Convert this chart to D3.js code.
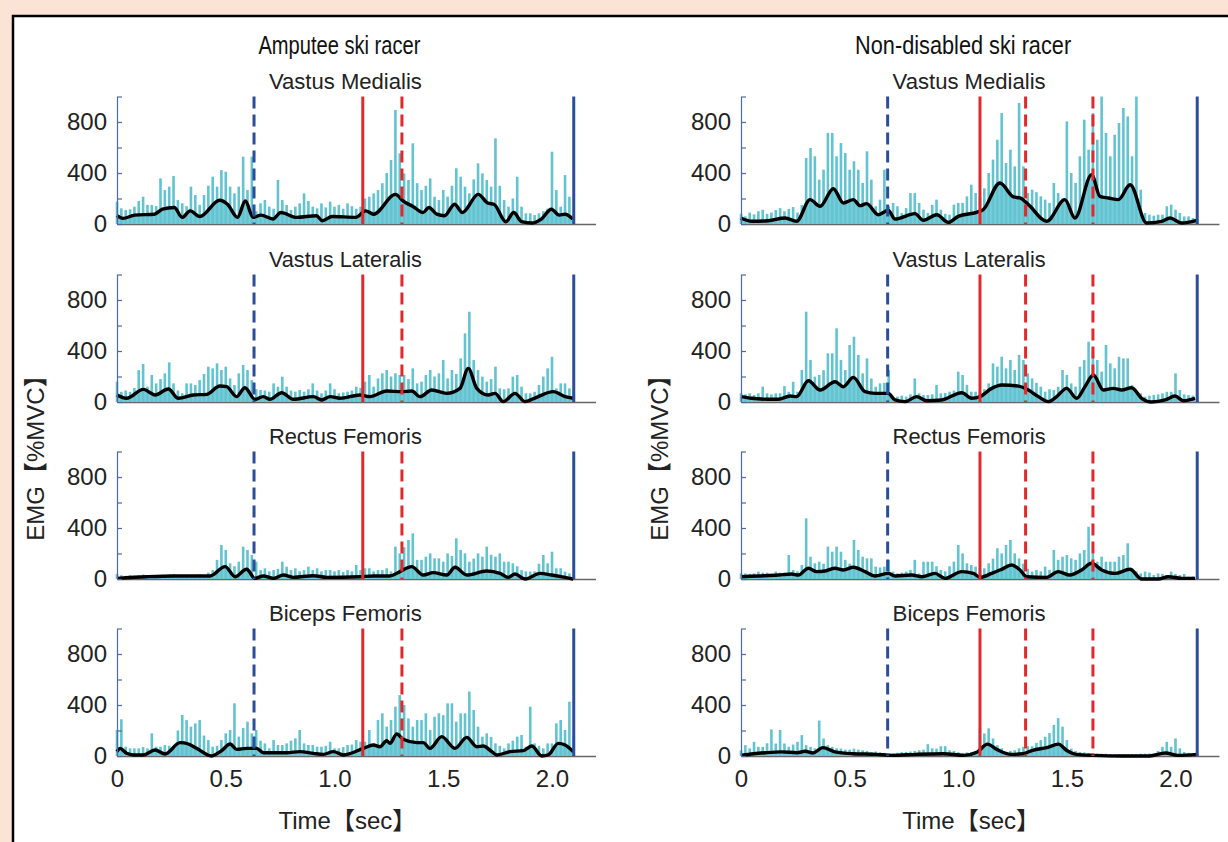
<!DOCTYPE html>
<html>
<head lang="en">
    <meta charset="UTF-8">
    <title></title>
    <script src="https://cdn.jsdelivr.net/npm/d3@7"></script>
    <style>
        *{
            margin: 0;
            padding: 0;
        }
        body{background:#fbe4d5;}
        text{font-family:"Liberation Sans","Noto Sans CJK SC",sans-serif;fill:#222;}
    </style>
</head>
<body>
<div id="mychart" style="width:1228px;height:842px;position:fixed;left:0;top:0"></div>
<script>
    // labels
    var groups = ["Amputee ski racer", "Non-disabled ski racer"];
    var muscles = ["Vastus Medialis", "Vastus Lateralis", "Rectus Femoris", "Biceps Femoris"];
    var xTicks = [0, 0.5, 1.0, 1.5, 2.0];
    var yTicks = [0, 200, 400, 600, 800, 1000];
    var yLabels = [0, 400, 800];

    // event markers (sec)
    var ampEventT = [0.63, 1.13, 1.31, 2.1];
    var ampEventType = ["blueDash", "redSolid", "redDash", "blueSolid"];
    var ndEventT = [0.675, 1.1, 1.31, 1.62, 2.1];
    var ndEventType = ["blueDash", "redSolid", "redDash", "redDash", "blueSolid"];

    // raw EMG peaks, one value every 0.02 s from 0 to 2.1 s
    var rawStep = 0.02;
    var ampVM_raw = [175,123,110,115,136,180,214,150,150,140, 358,266,293,376,188,162,140,293,227,150,
        227,300,371,293,423,410,293,240,293,528, 266,528,100,162,188,136,120,345,188,150,
        110,136,162,240,180,136,123,162,130,175, 136,150,120,162,140,120,136,200,214,240,
        266,320,400,502,894,554,397,345,633,320, 266,300,358,214,188,266,214,300,437,371,
        293,240,350,476,397,345,293,672,300,188, 136,200,371,136,84,84,70,84,100,120,
        567,266,136,384,214,80];
    var ampVL_raw = [160,80,90,80,110,250,298,120,212,146, 180,225,311,146,90,68,146,146,133,172,
        220,277,264,303,251,277,185,133,225,290, 251,172,100,94,90,81,146,120,199,120,
        90,81,94,81,100,146,90,68,90,146, 100,68,75,81,90,120,110,160,212,120,
        185,225,251,200,225,212,212,180,264,146, 160,212,251,200,225,329,185,251,220,342,
        538,708,329,250,199,160,180,277,107,100, 107,199,212,120,68,68,80,133,200,264,
        355,107,146,146,107,80];
    var ampRF_raw = [40,30,25,30,25,30,35,31,25,30, 25,30,35,39,30,25,30,25,30,35,
        30,50,70,150,267,228,123,100,136,254, 228,188,136,70,84,60,70,80,136,97,
        70,84,60,70,97,70,84,60,70,70, 60,70,55,70,60,110,70,84,84,60,
        70,70,84,60,254,201,250,306,358,150, 150,175,201,162,162,136,201,180,319,228,
        201,136,160,201,175,254,190,175,201,136, 136,123,100,70,60,58,60,120,188,123,
        214,84,84,58,44,30];
    var ampBF_raw = [204,288,73,60,60,60,70,60,178,73, 73,86,80,60,200,322,282,230,256,282,
        160,125,73,80,125,178,204,413,152,220, 269,178,204,120,99,60,125,86,86,99,
        120,139,204,99,86,86,73,73,80,112, 60,60,70,86,90,125,112,112,204,99,
        282,335,230,282,387,478,400,295,230,282, 282,335,204,308,335,320,413,413,269,335,
        335,505,361,230,152,178,150,99,80,60, 99,120,152,165,73,387,99,80,60,99,
        99,256,282,204,426,152];
    var ndVM_raw = [80,60,90,75,100,112,80,90,110,125, 100,118,133,90,150,518,596,531,348,426,
        714,714,531,635,557,426,492,426,322,570, 348,139,191,426,139,165,139,86,125,243,
        243,165,112,86,150,191,112,80,73,152, 165,165,217,308,243,217,280,400,505,661,
        870,478,583,452,949,452,243,269,250,217, 191,165,322,243,200,805,400,322,531,818,
        583,870,661,1000,714,531,700,792,910,844, 531,1000,269,86,73,65,73,73,139,152,
        112,86,60,60,47,40];
    var ndVL_raw = [68,60,68,55,68,120,68,60,68,68, 125,80,159,81,251,708,329,199,212,250,
        382,382,578,329,251,447,512,369,225,342, 185,120,146,150,251,42,42,50,42,60,
        185,68,55,55,60,133,68,70,81,90, 238,212,133,81,81,81,100,146,303,277,
        355,264,329,251,369,329,225,185,150,120, 81,100,94,120,251,212,146,120,277,329,
        473,395,329,238,447,303,264,355,342,342, 133,80,68,42,50,55,60,68,80,80,
        225,94,60,55,50,40];
    var ndRF_raw = [44,44,40,44,58,50,50,40,58,50, 50,188,71,60,110,476,175,123,136,120,
        254,214,254,214,150,120,306,228,175,162, 162,97,90,97,150,58,44,50,58,71,
        150,44,136,136,136,100,71,60,100,136, 267,201,123,110,97,84,84,123,160,241,
        201,267,306,201,162,120,80,58,71,60, 97,71,228,150,175,188,162,150,201,228,
        410,201,136,175,136,136,136,175,188,280, 84,60,44,58,50,31,44,40,31,58,
        40,31,40,18,20,15];
    var ndBF_raw = [45,85,60,111,72,72,100,209,98,204, 98,72,90,111,164,85,72,60,278,138,
        85,72,60,58,50,50,58,50,45,40, 32,35,30,25,18,20,25,30,32,35,
        40,45,50,93,60,58,77,77,45,40, 30,24,28,32,40,217,177,217,138,85,
        60,32,40,45,60,72,77,77,103,125, 151,180,244,297,230,125,58,40,32,28,
        24,22,18,18,18,15,13,13,13,13, 13,15,18,18,20,18,40,72,111,72,
        138,60,32,25,18,15];

    // smoothed envelope [sec, %MVC]
    var ampVM_env = [[0,65],[0.027,44],[0.082,70],[0.172,77],[0.209,116],[0.263,129],[0.30,52],[0.336,103],[0.381,59],[0.472,186],[0.508,155],[0.554,52],[0.59,180],[0.626,52],[0.662,70],[0.717,39],[0.753,90],[0.826,52],[0.917,65],[0.944,26],[0.989,59],[1.098,52],[1.143,103],[1.18,77],[1.28,232],[1.316,180],[1.361,137],[1.407,90],[1.434,129],[1.47,77],[1.506,65],[1.552,155],[1.588,90],[1.661,232],[1.706,163],[1.733,155],[1.788,18],[1.824,90],[1.86,18],[1.906,8],[1.951,39],[1.997,116],[2.033,70],[2.06,77],[2.096,39]];
    var ampVL_env = [[0,55],[0.044,29],[0.121,99],[0.175,55],[0.236,102],[0.282,29],[0.351,55],[0.412,60],[0.473,125],[0.504,120],[0.55,42],[0.588,112],[0.634,21],[0.673,42],[0.703,21],[0.757,73],[0.811,21],[0.903,42],[0.941,16],[0.98,42],[1.025,29],[1.117,55],[1.163,42],[1.24,86],[1.309,81],[1.355,86],[1.393,42],[1.447,94],[1.516,68],[1.577,107],[1.615,264],[1.654,107],[1.707,55],[1.738,68],[1.776,3],[1.83,68],[1.876,3],[1.929,37],[2.006,81],[2.06,42],[2.098,29]];
    var ampRF_env = [[0,5],[0.136,18],[0.259,24],[0.428,24],[0.497,97],[0.543,18],[0.596,76],[0.634,5],[0.673,24],[0.719,5],[0.765,31],[0.811,13],[0.903,26],[0.964,13],[1.117,18],[1.179,24],[1.255,24],[1.301,58],[1.355,97],[1.408,31],[1.454,50],[1.516,31],[1.554,92],[1.608,31],[1.7,63],[1.761,44],[1.799,13],[1.83,39],[1.876,0],[1.945,44],[1.998,31],[2.06,13],[2.098,0]];
    var ampBF_env = [[0,34],[0.014,60],[0.044,21],[0.075,8],[0.121,8],[0.175,47],[0.221,16],[0.29,105],[0.328,94],[0.366,60],[0.435,0],[0.481,42],[0.52,94],[0.55,52],[0.596,60],[0.642,60],[0.673,26],[0.78,26],[0.841,34],[0.903,21],[0.949,13],[0.995,34],[1.041,8],[1.133,60],[1.179,86],[1.209,73],[1.24,120],[1.255,99],[1.286,172],[1.316,131],[1.378,105],[1.408,105],[1.439,60],[1.493,152],[1.554,60],[1.608,146],[1.654,73],[1.684,78],[1.723,34],[1.746,8],[1.807,34],[1.868,42],[1.907,78],[1.953,0],[1.983,8],[2.029,99],[2.06,86],[2.098,34]];
    var ndVM_env = [[0,47],[0.049,21],[0.126,26],[0.203,47],[0.256,21],[0.318,191],[0.364,139],[0.425,277],[0.471,165],[0.517,191],[0.548,144],[0.578,160],[0.632,73],[0.678,107],[0.709,39],[0.801,81],[0.839,29],[0.901,73],[0.954,13],[1.0,60],[1.085,92],[1.115,112],[1.192,322],[1.254,212],[1.284,204],[1.323,152],[1.407,21],[1.491,191],[1.537,47],[1.614,387],[1.652,217],[1.691,204],[1.737,191],[1.791,308],[1.867,8],[1.936,21],[1.975,47],[2.028,8],[2.097,29]];
    var ndVL_env = [[0,42],[0.049,29],[0.126,21],[0.172,21],[0.226,47],[0.256,42],[0.31,167],[0.364,94],[0.433,159],[0.471,120],[0.517,193],[0.571,81],[0.617,68],[0.678,68],[0.709,16],[0.755,3],[0.809,42],[0.855,10],[0.924,16],[1.016,73],[1.062,29],[1.1,42],[1.154,107],[1.2,133],[1.277,125],[1.323,94],[1.369,42],[1.415,3],[1.453,42],[1.499,107],[1.545,29],[1.583,120],[1.622,212],[1.668,94],[1.714,107],[1.752,94],[1.798,112],[1.844,29],[1.89,0],[1.952,16],[1.998,47],[2.036,10],[2.09,29]];
    var ndRF_env = [[0,18],[0.08,24],[0.172,31],[0.233,39],[0.264,31],[0.31,84],[0.348,58],[0.387,63],[0.433,84],[0.471,71],[0.517,92],[0.571,58],[0.617,24],[0.678,44],[0.709,24],[0.786,31],[0.832,18],[0.893,44],[0.939,5],[1.016,58],[1.07,44],[1.1,13],[1.154,44],[1.2,76],[1.246,110],[1.284,71],[1.315,18],[1.407,13],[1.46,58],[1.514,31],[1.568,71],[1.614,123],[1.66,71],[1.722,44],[1.79,76],[1.844,0],[1.921,0],[1.967,18],[2.028,5],[2.09,5]];
    var ndBF_env = [[0,5],[0.058,18],[0.113,26],[0.186,32],[0.259,26],[0.295,37],[0.332,24],[0.377,66],[0.432,32],[0.514,18],[0.623,13],[0.696,5],[0.806,13],[0.933,18],[1.024,5],[1.088,32],[1.134,93],[1.179,50],[1.243,13],[1.298,18],[1.343,45],[1.407,66],[1.462,93],[1.498,45],[1.544,13],[1.626,5],[1.754,0],[1.881,0],[1.954,24],[2.009,5],[2.1,13]];

    var rawSets = [[ampVM_raw, ampVL_raw, ampRF_raw, ampBF_raw], [ndVM_raw, ndVL_raw, ndRF_raw, ndBF_raw]];
    var envSets = [[ampVM_env, ampVL_env, ampRF_env, ampBF_env], [ndVM_env, ndVL_env, ndRF_env, ndBF_env]];
    var eventSets = [[ampEventT, ampEventType], [ndEventT, ndEventType]];

    var lineStyle = {
        blueDash: {color: "#2b4e9c", dash: "12,6"},
        blueSolid: {color: "#2b4e9c", dash: null},
        redSolid: {color: "#e2282c", dash: null},
        redDash: {color: "#e2282c", dash: "12,6"}
    };

    //画布
    var _svg = d3.select("#mychart").append("svg")
        .attr("width", 1228).attr("height", 842);
    _svg.append("rect").attr("width", 1228).attr("height", 842).attr("fill", "#fbe4d5");
    _svg.append("rect").attr("x", 13).attr("y", 16).attr("width", 1400).attr("height", 1000)
        .attr("fill", "#fff").attr("stroke", "#000").attr("stroke-width", 2.5);

    var colX0 = [117, 741];
    var pxPerSec = [217.5, 217.25];
    var rowBase = [224, 402, 579, 756];
    var plotH = 127.5;
    var cyan = "#63c4d1";

    for (var c = 0; c < 2; c++) {
        var _x = d3.scaleLinear().domain([0, 2.2]).range([colX0[c], colX0[c] + 2.2 * pxPerSec[c]]);
        var cx = _x(1.05);

        _svg.append("text").attr("x", cx - 6).attr("y", 54)
            .attr("text-anchor", "middle").style("font-size", "26px").style("fill", "#111")
            .attr("textLength", c === 0 ? 162 : 216).attr("lengthAdjust", "spacingAndGlyphs")
            .text(groups[c]);

        _svg.append("text")
            .attr("transform", "translate(" + (c === 0 ? 44 : 668) + ",452) rotate(-90)")
            .attr("text-anchor", "middle").style("font-size", "24px")
            .text("EMG【%MVC】");

        _svg.append("text").attr("x", cx + 2).attr("y", 829)
            .attr("text-anchor", "middle").style("font-size", "24px")
            .text("Time【sec】");

        for (var r = 0; r < 4; r++) {
            var base = rowBase[r];
            var _y = d3.scaleLinear().domain([0, 1000]).range([base, base - plotH]).clamp(true);
            var g = _svg.append("g");

            g.append("text").attr("x", cx).attr("y", base - 135)
                .attr("text-anchor", "middle").style("font-size", "22px")
                .attr("textLength", 153).attr("lengthAdjust", "spacingAndGlyphs")
                .text(muscles[r]);

            // x轴
            var _xaxis = d3.axisBottom(_x).tickValues(xTicks).tickSize(0).tickPadding(14)
                .tickFormat(function (d) { return d === 0 ? "0" : d.toFixed(1); });
            if (r < 3) _xaxis.tickFormat("");
            var gx = g.append("g").attr("transform", "translate(0," + base + ")").call(_xaxis);
            gx.select(".domain").attr("stroke", "#666").attr("stroke-width", 1.3);
            gx.selectAll("text").style("font-size", "24px").attr("fill", "#333").style("font-family", "Liberation Sans");

            var raw = rawSets[c][r];
            var env = envSets[c][r];

            var _area = d3.area()
                .x(function (d) { return _x(d[0]); })
                .y0(base)
                .y1(function (d) { return _y(d[1]); })
                .curve(d3.curveMonotoneX);
            g.append("path").attr("d", _area(env)).attr("fill", cyan).attr("opacity", 0.85);

            g.selectAll("rect.raw").data(raw).enter().append("rect")
                .attr("class", "raw")
                .attr("x", function (d, i) { return _x(i * rawStep) - 1.3; })
                .attr("y", function (d) { return _y(d); })
                .attr("width", 2.6)
                .attr("height", function (d) { return base - _y(d); })
                .attr("fill", cyan);

            var _line = d3.line()
                .x(function (d) { return _x(d[0]); })
                .y(function (d) { return _y(d[1]); })
                .curve(d3.curveMonotoneX);
            g.append("path").attr("d", _line(env)).attr("fill", "none")
                .attr("stroke", "#000").attr("stroke-width", 3.4).attr("stroke-linejoin", "round");

            var evT = eventSets[c][0], evType = eventSets[c][1];
            g.selectAll("line.ev").data(evT).enter().append("line")
                .attr("class", "ev")
                .attr("x1", function (d) { return _x(d); })
                .attr("x2", function (d) { return _x(d); })
                .attr("y1", _y(1000)).attr("y2", base)
                .attr("stroke", function (d, i) { return lineStyle[evType[i]].color; })
                .attr("stroke-width", 3)
                .attr("stroke-dasharray", function (d, i) { return lineStyle[evType[i]].dash; });

            // y轴
            var _yaxis = d3.axisLeft(_y).tickValues(yTicks).tickSizeInner(-5).tickSizeOuter(0).tickPadding(10)
                .tickFormat(function (d) { return yLabels.indexOf(d) >= 0 ? d : ""; });
            var gy = g.append("g").attr("transform", "translate(" + colX0[c] + ",0)").call(_yaxis);
            gy.select(".domain").attr("stroke", "#4d6aa6").attr("stroke-width", 1.2);
            gy.selectAll(".tick line").attr("stroke", "#4d6aa6").attr("stroke-width", 1.2);
            gy.selectAll("text").style("font-size", "24px").attr("fill", "#333").style("font-family", "Liberation Sans");
        }
    }
</script>
</body>
</html>
